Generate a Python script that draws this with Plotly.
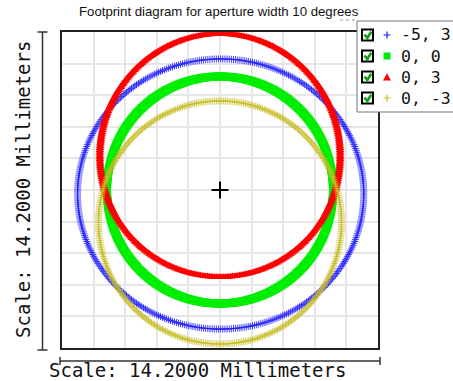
import numpy as np
import plotly.graph_objects as go

# ---------------- data (millimetres) ----------------
series_labels = ["-5, 3", "0, 0", "0, 3", "0, -3"]
center_x_mm = [0.03, 0.0, 0.0, 0.0]
center_y_mm = [-0.18, 0.0, 1.55, -1.46]
radius_x_mm = [6.43, 5.08, 5.40, 5.46]
radius_y_mm = [6.07, 5.10, 5.46, 5.46]
scale_mm = 14.2
n_divisions = 10
title_text = "Footprint diagram for aperture width 10 degrees"
scale_text = "Scale: 14.2000 Millimeters"

# ---------------- styles ----------------
W, H = 453, 381
colors = ["rgb(30,30,255)", "rgb(0,238,0)", "rgb(255,0,0)", "rgb(200,190,40)"]
symbols = ["cross-thin", "square", "triangle-up", "cross-thin"]
sizes = [5, 8, 7.5, 5]
opac = [0.85, 1, 1, 0.8]
n_pts = 420

def px(x):
    return x / W

def py(y):
    return 1 - y / H

fig = go.Figure()
t = np.linspace(0, 2 * np.pi, n_pts, endpoint=False)
for i, lab in enumerate(series_labels):
    xs = center_x_mm[i] + radius_x_mm[i] * np.cos(t)
    ys = center_y_mm[i] + radius_y_mm[i] * np.sin(t)
    if symbols[i] == "cross-thin":
        marker = dict(symbol="cross-thin", size=sizes[i], color=colors[i],
                      line=dict(width=1, color=colors[i]), opacity=opac[i])
    else:
        marker = dict(symbol=symbols[i], size=sizes[i], color=colors[i],
                      line=dict(width=0))
    fig.add_trace(go.Scatter(x=xs, y=ys, mode="markers", marker=marker,
                             name=lab, showlegend=False, hoverinfo="skip"))

# centre cross
fig.add_trace(go.Scatter(x=[0], y=[0], mode="markers", showlegend=False,
                         marker=dict(symbol="cross-thin", size=12,
                                     line=dict(width=2, color="black"))))

half = scale_mm / 2
step = scale_mm / n_divisions
axis_common = dict(range=[-half, half], dtick=step, tick0=0, showticklabels=False,
                   ticks="", showgrid=True, gridcolor="#e6e6e6", gridwidth=2,
                   zeroline=False, showline=True, linecolor="#222", linewidth=2,
                   mirror=True, fixedrange=True)

fig.update_layout(
    width=W, height=H, margin=dict(l=0, r=0, t=0, b=0),
    paper_bgcolor="white", plot_bgcolor="white",
    xaxis=dict(domain=[px(62), px(378)], **axis_common),
    yaxis=dict(domain=[py(348), py(32)], **axis_common),
    showlegend=False,
)

shapes = []
ann = []
line_col = "#333"
# left scale bar
shapes.append(dict(type="line", xref="paper", yref="paper", x0=px(42.5), x1=px(42.5),
                   y0=py(32), y1=py(350), line=dict(color=line_col, width=1.5)))
for yy in (32, 350):
    shapes.append(dict(type="line", xref="paper", yref="paper", x0=px(37.5), x1=px(47.5),
                       y0=py(yy), y1=py(yy), line=dict(color=line_col, width=1.5)))
# bottom scale bar
shapes.append(dict(type="line", xref="paper", yref="paper", x0=px(60), x1=px(380),
                   y0=py(361), y1=py(361), line=dict(color=line_col, width=1.5)))
for xx in (60, 380):
    shapes.append(dict(type="line", xref="paper", yref="paper", x0=px(xx), x1=px(xx),
                       y0=py(357), y1=py(365), line=dict(color=line_col, width=1.5)))

# legend box
shapes.append(dict(type="rect", xref="paper", yref="paper", layer="above",
                   x0=px(357), x1=px(470), y0=py(21), y1=py(112),
                   fillcolor="white", line=dict(color="#777", width=1)))
shapes.append(dict(type="line", xref="paper", yref="paper", layer="above",
                   x0=px(340), x1=px(356), y0=py(20), y1=py(20),
                   line=dict(color="#999", width=1, dash="dot")))
rows = [35, 56, 77, 98]
mx = 387
for i, lab in enumerate(series_labels):
    r = rows[i]
    # checkbox
    shapes.append(dict(type="rect", xref="paper", yref="paper", layer="above",
                       x0=px(362), x1=px(373), y0=py(r - 5.5), y1=py(r + 5.5),
                       fillcolor="white", line=dict(color="black", width=2)))
    shapes.append(dict(type="path", xref="paper", yref="paper", layer="above",
                       path=f"M {px(364.5)} {py(r - 0.5)} L {px(367.3)} {py(r + 3)} L {px(371.2)} {py(r - 3.2)}",
                       line=dict(color="#12a012", width=2.6)))
    c = colors[i]
    if symbols[i] == "cross-thin":
        shapes.append(dict(type="path", xref="paper", yref="paper", layer="above",
                           path=f"M {px(mx-3.5)} {py(r)} L {px(mx+3.5)} {py(r)} M {px(mx)} {py(r-3.5)} L {px(mx)} {py(r+3.5)}",
                           line=dict(color=c, width=1.2)))
    elif symbols[i] == "square":
        shapes.append(dict(type="rect", xref="paper", yref="paper", layer="above",
                           x0=px(mx - 3.5), x1=px(mx + 3.5), y0=py(r - 3.5), y1=py(r + 3.5),
                           fillcolor=c, line=dict(width=0)))
    else:
        shapes.append(dict(type="path", xref="paper", yref="paper", layer="above",
                           path=f"M {px(mx-4)} {py(r+3.5)} L {px(mx+4)} {py(r+3.5)} L {px(mx)} {py(r-3.8)} Z",
                           fillcolor=c, line=dict(width=0)))
    ann.append(dict(xref="paper", yref="paper", x=px(399), y=py(r), xanchor="left",
                    yanchor="middle", showarrow=False, text=lab,
                    font=dict(family="DejaVu Sans Mono", size=16.5, color="#111")))

ann.append(dict(xref="paper", yref="paper", x=px(219), y=py(11.5), xanchor="center",
                yanchor="middle", showarrow=False, text=title_text,
                font=dict(family="Liberation Sans, Arial", size=13.2, color="#111")))
ann.append(dict(xref="paper", yref="paper", x=px(197), y=py(369.5), xanchor="center",
                yanchor="middle", showarrow=False, text=scale_text,
                font=dict(family="DejaVu Sans Mono", size=19, color="#111")))
ann.append(dict(xref="paper", yref="paper", x=px(23), y=py(190), xanchor="center",
                yanchor="middle", showarrow=False, text=scale_text, textangle=-90,
                font=dict(family="DejaVu Sans Mono", size=19, color="#111")))

fig.update_layout(shapes=shapes, annotations=ann)
fig.write_html("out.html")
